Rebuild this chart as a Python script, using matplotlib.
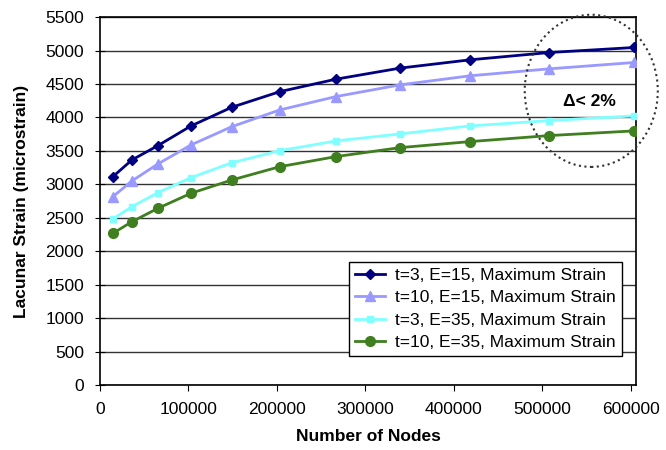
import matplotlib
matplotlib.use("Agg")
import matplotlib.pyplot as plt
from matplotlib.patches import Ellipse

# values
nodes = [14700, 36200, 65600, 103000, 149300, 203600, 267000,
         339400, 418600, 508000, 604000]

strain_t3_e15 = [3116, 3366, 3580, 3874, 4154, 4387, 4573, 4738, 4862, 4971, 5046]
strain_t10_e15 = [2817, 3052, 3306, 3590, 3864, 4114, 4313, 4488, 4623, 4727, 4822]
strain_t3_e35 = [2483, 2668, 2877, 3101, 3325, 3505, 3650, 3755, 3874, 3954, 4024]
strain_t10_e35 = [2269, 2443, 2643, 2868, 3067, 3266, 3416, 3550, 3640, 3730, 3800]

labels = ["t=3, E=15, Maximum Strain", "t=10, E=15, Maximum Strain",
          "t=3, E=35, Maximum Strain", "t=10, E=35, Maximum Strain"]

plt.rcParams['font.family'] = ['Liberation Sans', 'DejaVu Sans']

fig = plt.figure(figsize=(6.66, 4.5), dpi=100)
ax = fig.add_axes([0.150, 0.144, 0.805, 0.818])

series = [
    (strain_t3_e15, '#000080', 'D', 5),
    (strain_t10_e15, '#9999ff', '^', 7),
    (strain_t3_e35, '#7fffff', 's', 5),
    (strain_t10_e35, '#3f7f1f', 'o', 7),
]
for (vals, col, mk, ms), lab in zip(series, labels):
    ax.plot(nodes, vals, color=col, marker=mk, markersize=ms, lw=2,
            label=lab, zorder=3)

ax.set_xlim(0, 606000)
ax.set_ylim(0, 5500)
ax.set_xticks(range(0, 600001, 100000))
ax.set_yticks(range(0, 5501, 500))
ax.yaxis.grid(True, color='#333333', lw=1)
ax.set_axisbelow(True)
for sp in ax.spines.values():
    sp.set_linewidth(1.2)
    sp.set_color('black')
ax.tick_params(axis='y', direction='inout', length=7, labelsize=12.5, pad=8)
ax.tick_params(axis='x', direction='out', length=4, labelsize=12.5, pad=8)

ax.set_xlabel("Number of Nodes", fontsize=12.5, fontweight='bold', labelpad=9)
ax.set_ylabel("Lacunar Strain (microstrain)", fontsize=12.5, fontweight='bold',
              labelpad=12)

ell = Ellipse((555400, 4398), 150400, 2274, fill=False, ls=':', lw=1.5,
              edgecolor='#333333', clip_on=False, zorder=4)
ax.add_patch(ell)
ax.text(553000, 4240, "\u0394< 2%", fontsize=12.5, fontweight='bold',
        ha='center', va='center', zorder=5)

leg = ax.legend(loc='lower right', bbox_to_anchor=(0.99, 0.055), fontsize=12.5,
                fancybox=False, framealpha=1, edgecolor='black',
                handlelength=1.7, borderpad=0.35, labelspacing=0.42,
                handletextpad=0.6)
leg.get_frame().set_linewidth(1)

fig.savefig("out.png", dpi=100)
